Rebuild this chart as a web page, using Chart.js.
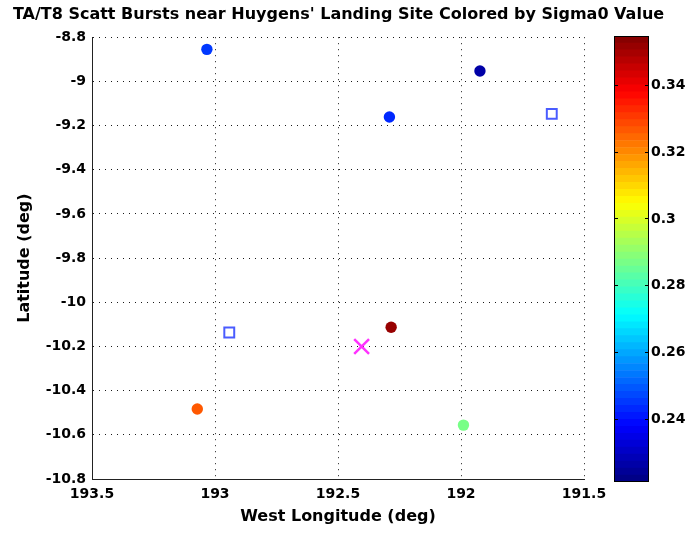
<!DOCTYPE html>
<html>
<head>
<meta charset="utf-8">
<script src="https://cdn.jsdelivr.net/npm/chart.js@4"></script>
<style>
  html, body { margin: 0; padding: 0; background: #fff; }
  #wrap { position: relative; width: 691px; height: 533px; }
  #mainCanvas { position: absolute; left: 0; top: 0; }
  #cbCanvas { position: absolute; left: 600px; top: 0; }
</style>
</head>
<body>
<div id="wrap">
  <canvas id="mainCanvas" width="691" height="533"></canvas>
  <canvas id="cbCanvas" width="91" height="533"></canvas>
</div>
<script>
// ==================== TA/T8 scatt bursts near Huygens ====================

// --- Data ---
const burstLon   = [193.033, 191.923, 192.291, 192.284, 193.072, 191.990];
const burstLat   = [-8.855, -8.953, -9.161, -10.113, -10.483, -10.556];
const burstSigma = [0.245, 0.226, 0.244, 0.352, 0.327, 0.288];

const openLon = [191.631, 192.942];
const openLat = [-9.147, -10.137];

const siteLon = [192.404];
const siteLat = [-10.200];

const xTicks  = [193.5, 193, 192.5, 192, 191.5];
const yTicks  = [-10.8, -10.6, -10.4, -10.2, -10, -9.8, -9.6, -9.4, -9.2, -9, -8.8];
const cbTicks = [0.24, 0.26, 0.28, 0.3, 0.32, 0.34];
const cbRange = [0.2212, 0.3548];
const N_LEVELS = 64;

// --- Jet colormap ---
function jet(t) {
  const c = v => Math.round(255 * Math.max(0, Math.min(1, v)));
  return `rgb(${c(1.5 - Math.abs(4 * t - 3))},${c(1.5 - Math.abs(4 * t - 2))},${c(1.5 - Math.abs(4 * t - 1))})`;
}
function sigmaColor(s) {
  const [lo, hi] = cbRange;
  let i = Math.floor((s - lo) / (hi - lo) * N_LEVELS);
  i = Math.max(0, Math.min(N_LEVELS - 1, i));
  return jet((i + 0.5) / N_LEVELS);
}

const FAMILY = 'DejaVu Sans';
const tickFont = { family: FAMILY, size: 14, weight: 'bold' };
const titleFont = { family: FAMILY, size: 16, weight: 'bold' };
const GRID = 'rgba(0,0,0,0.9)';
Chart.defaults.color = '#000';

const pts = (xs, ys) => xs.map((x, i) => ({ x, y: ys[i] }));

// --- Main scatter ---
new Chart(document.getElementById('mainCanvas'), {
  type: 'scatter',
  data: {
    datasets: [
      {
        label: 'Scatt bursts',
        data: pts(burstLon, burstLat),
        pointStyle: 'circle',
        pointRadius: 5.7,
        pointBackgroundColor: burstSigma.map(sigmaColor),
        pointBorderColor: burstSigma.map(sigmaColor),
        pointBorderWidth: 0
      },
      {
        label: 'Open',
        data: pts(openLon, openLat),
        pointStyle: 'rect',
        pointRadius: 7,
        pointBackgroundColor: 'rgba(0,0,0,0)',
        pointBorderColor: '#4a5cff',
        pointBorderWidth: 2
      },
      {
        label: 'Huygens',
        data: pts(siteLon, siteLat),
        pointStyle: 'crossRot',
        pointRadius: 10.5,
        pointBorderColor: '#ff33ff',
        pointBorderWidth: 2.5
      }
    ]
  },
  options: {
    responsive: false,
    animation: false,
    layout: { padding: { left: 0, right: 14, top: 0, bottom: 0 } },
    plugins: {
      legend: { display: false },
      tooltip: { enabled: false },
      title: {
        display: true,
        text: "TA/T8 Scatt Bursts near Huygens' Landing Site Colored by Sigma0 Value",
        color: '#000',
        font: titleFont,
        padding: { top: 5.6, bottom: 12.4 }
      }
    },
    scales: {
      x: {
        type: 'linear',
        reverse: true,
        min: 191.5,
        max: 193.5,
        afterBuildTicks: s => { s.ticks = xTicks.map(v => ({ value: v })); },
        afterFit: s => { s.height = 54; },
        ticks: { callback: v => String(v), padding: 7, font: tickFont, color: '#000', maxRotation: 0, autoSkip: false },
        grid: { color: GRID, lineWidth: 1, drawTicks: false },
        border: { display: true, color: '#222', width: 1, dash: [1, 5] },
        title: { display: true, text: 'West Longitude (deg)', color: '#000', font: titleFont, padding: { top: 0, bottom: 6.4 } }
      },
      y: {
        type: 'linear',
        min: -10.8,
        max: -8.8,
        afterBuildTicks: s => { s.ticks = yTicks.map(v => ({ value: v })); },
        afterFit: s => { s.width = 92; },
        ticks: { callback: v => String(v), padding: 6, font: tickFont, color: '#000', autoSkip: false },
        grid: { color: GRID, lineWidth: 1, drawTicks: false },
        border: { display: true, color: '#222', width: 1, dash: [1, 5] },
        title: { display: true, text: 'Latitude (deg)', color: '#000', font: titleFont, padding: { top: 15, bottom: 0 } }
      },
      // empty right-hand axis that leaves room for the colorbar
      yPad: {
        type: 'linear',
        position: 'right',
        grid: { display: false },
        ticks: { display: false },
        border: { display: false },
        afterFit: s => { s.width = 93; }
      }
    }
  }
});

// --- Colorbar ---
const span = cbRange[1] - cbRange[0];
const levels = Array.from({ length: N_LEVELS }, (_, i) =>
  [cbRange[0] + span * i / N_LEVELS, cbRange[0] + span * (i + 1) / N_LEVELS]);

new Chart(document.getElementById('cbCanvas'), {
  type: 'bar',
  data: {
    labels: ['Sigma0'],
    datasets: levels.map((e, i) => ({
      data: [e],
      backgroundColor: jet((i + 0.5) / N_LEVELS),
      borderWidth: 0,
      barPercentage: 1,
      categoryPercentage: 1,
      grouped: false
    }))
  },
  options: {
    responsive: false,
    animation: false,
    layout: { padding: { left: 14, top: 36, bottom: 51, right: 0 } },
    plugins: { legend: { display: false }, tooltip: { enabled: false } },
    scales: {
      x: { display: false },
      y: {
        position: 'right',
        min: cbRange[0],
        max: cbRange[1],
        afterBuildTicks: s => { s.ticks = cbTicks.map(v => ({ value: v })); },
        afterFit: s => { s.width = 42; },
        ticks: { callback: v => String(v), padding: 2, font: tickFont, color: '#000' },
        grid: { color: '#000', lineWidth: 1, drawTicks: false, z: 1 },
        border: { display: false, dash: [4, 27] }
      }
    }
  },
  plugins: [{
    id: 'frame',
    afterDraw(chart) {
      const { ctx, chartArea: a } = chart;
      ctx.save();
      ctx.strokeStyle = '#000';
      ctx.lineWidth = 1;
      ctx.strokeRect(Math.round(a.left) + 0.5, Math.round(a.top) + 0.5, Math.round(a.width) - 1, Math.round(a.height) - 1);
      ctx.restore();
    }
  }]
});
</script>
</body>
</html>
